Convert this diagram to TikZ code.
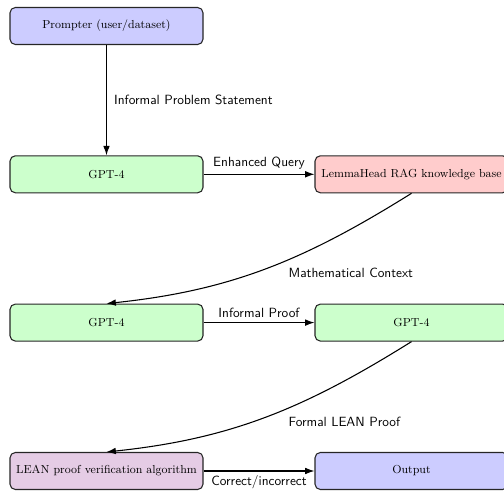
\documentclass[tikz,border=0pt]{standalone}
\usetikzlibrary{arrows.meta}
\begin{document}
\begin{tikzpicture}[x=0.75pt,y=-0.75pt,
  box/.style={draw=black!85, thick, rounded corners=4pt, minimum width=144.75pt, minimum height=27.75pt, font=\fontsize{8.7}{10.5}\selectfont, inner sep=2pt},
  conn/.style={thick, -{Latex[length=7pt,width=5pt]}},
  lbl/.style={font=\sffamily}]
\useasboundingbox (0,0) rectangle (504,491);
\node[box, fill=blue!20]   (prompter) at (106.5,26)    {Prompter (user/dataset)};
\node[box, fill=green!20]  (gptA)     at (106.5,174.3) {GPT-4};
\node[box, fill=red!20]    (lemma)    at (411.5,174.3) {LemmaHead RAG knowledge base};
\node[box, fill=green!20]  (gptB)     at (106.5,322.6) {GPT-4};
\node[box, fill=green!20]  (gptC)     at (411.5,322.6) {GPT-4};
\node[box, fill=violet!20] (lean)     at (106.5,471)   {LEAN proof verification algorithm};
\node[box, fill=blue!20]   (output)   at (411.5,471)   {Output};

\draw[conn] (prompter) -- node[lbl, right, xshift=2pt] {Informal Problem Statement} (gptA);
\draw[conn] (gptA) -- node[lbl, above] {Enhanced Query} (lemma);
\draw[conn] (lemma.south) .. controls +(-106.6,66.6) and +(125,-13.1) .. node[lbl, pos=0.5, anchor=west, xshift=13.3pt, yshift=-3.4pt] {Mathematical Context} (gptB.north);
\draw[conn] (gptB) -- node[lbl, above] {Informal Proof} (gptC);
\draw[conn] (gptC.south) .. controls +(-106.6,66.6) and +(125,-13.1) .. node[lbl, pos=0.5, anchor=west, xshift=13.3pt, yshift=-3.4pt] {Formal LEAN Proof} (lean.north);
\draw[conn] (lean) -- node[lbl, below] {Correct/incorrect} (output);
\end{tikzpicture}
\end{document}
